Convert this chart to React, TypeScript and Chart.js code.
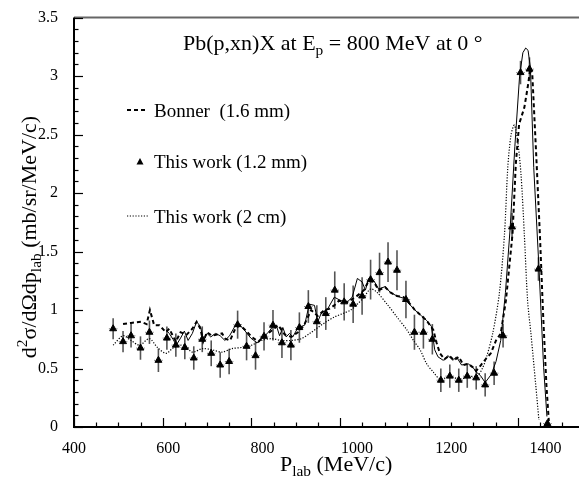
import React, { useEffect, useRef } from "react";
import { Chart, registerables } from "chart.js";

Chart.register(...registerables);

const FONT = "'Liberation Serif', 'Times New Roman', Times, serif";

// ---- axes ----
const X_MIN = 400;
const X_MAX = 1471;
const Y_MIN = 0;
const Y_MAX = 3.5;
const X_TICKS = [400, 600, 800, 1000, 1200, 1400];
const Y_TICKS = [0, 0.5, 1, 1.5, 2, 2.5, 3, 3.5];
const X_MINOR_STEP = 47.05;
const Y_MINOR_STEP = 0.1;

// ---- Bonner (1.6 mm), dashed ----
const BONNER_P = [504, 521, 542, 554, 561, 570, 581, 595, 602, 616, 626, 639, 651, 660, 668, 674, 682, 693, 703, 714, 721, 731, 742, 752, 763, 777, 791, 801, 812, 824, 833, 847, 861, 875, 889, 903, 917, 931, 941, 952, 962, 980, 997, 1015, 1025, 1036, 1046, 1060, 1071, 1085, 1099, 1109, 1123, 1137, 1148, 1162, 1169, 1176, 1186, 1196, 1206, 1216, 1226, 1236, 1246, 1253, 1263, 1274, 1284, 1295, 1305, 1316, 1330, 1337, 1344, 1355, 1362, 1368, 1372, 1380, 1388, 1395, 1402, 1407];
const BONNER_V = [0.88, 0.89, 0.90, 0.88, 1.0, 0.87, 0.87, 0.81, 0.84, 0.73, 0.81, 0.79, 0.84, 0.90, 0.84, 0.73, 0.81, 0.78, 0.79, 0.80, 0.755, 0.74, 0.84, 0.87, 0.83, 0.77, 0.73, 0.77, 0.80, 0.84, 0.87, 0.79, 0.77, 0.81, 0.88, 1.0, 0.95, 1.0, 1.01, 1.04, 1.08, 1.07, 1.11, 1.17, 1.25, 1.24, 1.17, 1.195, 1.15, 1.12, 1.11, 1.07, 1.0, 0.95, 0.91, 0.83, 0.72, 0.63, 0.58, 0.61, 0.57, 0.60, 0.53, 0.54, 0.51, 0.48, 0.53, 0.585, 0.63, 0.74, 0.80, 1.08, 1.65, 2.25, 2.59, 2.73, 2.90, 3.07, 3.01, 2.35, 1.65, 0.95, 0.35, 0.05];

// ---- This work (1.2 mm), fine solid line ----
const FINE_P = [595, 602, 610, 617, 626, 634, 642, 651, 660, 668, 675, 682, 690, 700, 710, 720, 730, 741, 752, 763, 775, 788, 800, 812, 822, 829, 836, 843, 850, 857, 864, 875, 889, 899, 910, 917, 924, 938, 952, 966, 980, 990, 1001, 1011, 1018, 1025, 1036, 1046, 1060, 1071, 1085, 1099, 1109, 1123, 1137, 1148, 1158, 1165, 1172, 1183, 1193, 1204, 1211, 1222, 1236, 1246, 1253, 1262, 1272, 1285, 1295, 1305, 1315, 1325, 1335, 1345, 1352, 1358, 1363, 1368, 1375, 1386, 1396, 1403];
const FINE_V = [0.83, 0.80, 0.75, 0.70, 0.76, 0.82, 0.74, 0.80, 0.90, 0.86, 0.74, 0.80, 0.77, 0.80, 0.78, 0.74, 0.78, 0.86, 0.87, 0.82, 0.76, 0.72, 0.76, 0.81, 0.86, 0.87, 0.78, 0.85, 0.77, 0.80, 0.77, 0.85, 0.87, 1.05, 1.04, 0.90, 0.97, 1.01, 1.11, 1.08, 1.07, 1.11, 1.27, 1.24, 1.17, 1.27, 1.25, 1.18, 1.20, 1.15, 1.12, 1.10, 1.06, 1.0, 0.95, 0.91, 0.86, 0.66, 0.60, 0.57, 0.61, 0.57, 0.60, 0.53, 0.54, 0.51, 0.47, 0.44, 0.38, 0.45, 0.56, 0.74, 1.15, 1.70, 2.40, 3.0, 3.2, 3.24, 3.22, 3.07, 2.22, 1.37, 0.51, 0.09];

// ---- This work (2 cm), dotted ----
const THICK_P = [483, 504, 521, 539, 560, 577, 595, 612, 633, 651, 672, 693, 714, 735, 756, 777, 798, 819, 840, 861, 882, 900, 917, 935, 952, 970, 987, 1001, 1015, 1029, 1043, 1064, 1085, 1106, 1120, 1134, 1148, 1162, 1176, 1197, 1218, 1239, 1256, 1266, 1274, 1288, 1302, 1313, 1320, 1327, 1334, 1341, 1348, 1355, 1362, 1369, 1379, 1386];
const THICK_V = [0.70, 0.78, 0.74, 0.70, 0.755, 0.68, 0.63, 0.68, 0.70, 0.64, 0.67, 0.66, 0.64, 0.67, 0.68, 0.70, 0.74, 0.755, 0.74, 0.74, 0.755, 0.80, 0.85, 0.90, 0.94, 0.97, 1.0, 1.05, 1.11, 1.18, 1.15, 1.05, 0.94, 0.83, 0.74, 0.66, 0.54, 0.47, 0.41, 0.43, 0.41, 0.43, 0.44, 0.50, 0.585, 0.80, 1.14, 1.65, 2.22, 2.50, 2.58, 2.44, 2.16, 1.65, 1.08, 0.80, 0.37, 0.06];

// ---- This work (1.2 mm), triangles with errors ----
const PTS_P = [483, 504, 521, 541, 560, 579, 597, 616, 635, 654, 672, 691, 710, 729, 747, 766, 785, 803, 822, 841, 860, 878, 897, 915, 934, 953, 973, 992, 1011, 1029, 1048, 1066, 1085, 1104, 1122, 1141, 1160, 1178, 1197, 1216, 1234, 1253, 1272, 1291, 1310, 1329, 1347, 1366, 1385, 1404];
const PTS_V = [0.84, 0.73, 0.78, 0.675, 0.81, 0.57, 0.76, 0.70, 0.68, 0.59, 0.75, 0.63, 0.53, 0.56, 0.875, 0.69, 0.61, 0.775, 0.87, 0.72, 0.70, 0.85, 1.03, 0.90, 0.97, 1.17, 1.07, 1.05, 1.12, 1.26, 1.32, 1.41, 1.34, 1.09, 0.81, 0.81, 0.75, 0.40, 0.435, 0.40, 0.435, 0.42, 0.36, 0.46, 0.78, 1.71, 3.03, 3.06, 1.35, 0.03];
const PTS_ERR = [0.09, 0.09, 0.1, 0.1, 0.1, 0.1, 0.1, 0.1, 0.1, 0.1, 0.11, 0.11, 0.11, 0.11, 0.12, 0.12, 0.12, 0.12, 0.13, 0.13, 0.13, 0.13, 0.14, 0.14, 0.14, 0.16, 0.16, 0.16, 0.16, 0.17, 0.17, 0.17, 0.17, 0.16, 0.15, 0.14, 0.13, 0.1, 0.1, 0.1, 0.1, 0.1, 0.1, 0.1, 0.1, 0.12, 0.1, 0.1, 0.1, 0.02];
const PTS_XERR = 9;

// ---- texts ----
type Seg = { t: string; mode?: "sub" | "sup" };
const TITLE_SEGS: Seg[] = [{ t: "Pb(p,xn)X at E" }, { t: "p", mode: "sub" }, { t: " = 800 MeV at 0 °" }];
const LEGEND_LABELS = ["Bonner  (1.6 mm)", "This work (1.2 mm)", "This work (2 cm)"];
const Y_TITLE: Seg[] = [{ t: "d" }, { t: "2", mode: "sup" }, { t: "σ/dΩdp" }, { t: "lab", mode: "sub" }, { t: " (mb/sr/MeV/c)" }];
const X_TITLE: Seg[] = [{ t: "P" }, { t: "lab", mode: "sub" }, { t: " (MeV/c)" }];

function zip(a: number[], b: number[]) {
  return a.map((x, i) => ({ x, y: b[i] }));
}

function drawRich(ctx: CanvasRenderingContext2D, segs: Seg[], x: number, y: number, size: number, align: "left" | "center") {
  const fontOf = (s: Seg) => `${s.mode ? size * 0.7 : size}px ${FONT}`;
  let total = 0;
  const widths = segs.map((s) => {
    ctx.font = fontOf(s);
    const w = ctx.measureText(s.t).width;
    total += w;
    return w;
  });
  let cx = align === "center" ? x - total / 2 : x;
  ctx.textAlign = "left";
  ctx.textBaseline = "alphabetic";
  segs.forEach((s, i) => {
    ctx.font = fontOf(s);
    const dy = s.mode === "sub" ? size * 0.22 : s.mode === "sup" ? -size * 0.42 : 0;
    ctx.fillText(s.t, cx, y + dy);
    cx += widths[i];
  });
}

const decorations = {
  id: "decorations",
  beforeDatasetsDraw(chart: any) {
    const ctx: CanvasRenderingContext2D = chart.ctx;
    const xs = chart.scales.x;
    const ys = chart.scales.y;
    ctx.save();
    for (let i = 0; i < PTS_P.length; i++) {
      const px = xs.getPixelForValue(PTS_P[i]);
      const py = ys.getPixelForValue(PTS_V[i]);
      const y1 = ys.getPixelForValue(PTS_V[i] - PTS_ERR[i]);
      const y2 = ys.getPixelForValue(PTS_V[i] + PTS_ERR[i]);
      ctx.strokeStyle = "#555";
      ctx.lineWidth = 1.6;
      ctx.setLineDash([]);
      ctx.beginPath();
      ctx.moveTo(px, y1);
      ctx.lineTo(px, y2);
      ctx.stroke();
      ctx.strokeStyle = "#777";
      ctx.lineWidth = 1;
      ctx.setLineDash([1, 1.5]);
      ctx.beginPath();
      ctx.moveTo(xs.getPixelForValue(PTS_P[i] - PTS_XERR), py);
      ctx.lineTo(xs.getPixelForValue(PTS_P[i] + PTS_XERR), py);
      ctx.stroke();
    }
    ctx.restore();
  },
  afterDraw(chart: any) {
    const ctx: CanvasRenderingContext2D = chart.ctx;
    const { left, right, top, bottom } = chart.chartArea;
    const xs = chart.scales.x;
    const ys = chart.scales.y;
    ctx.save();
    ctx.setLineDash([]);
    // frame
    ctx.strokeStyle = "#666";
    ctx.lineWidth = 2;
    ctx.beginPath();
    ctx.moveTo(left, top);
    ctx.lineTo(right, top);
    ctx.stroke();
    ctx.strokeStyle = "#000";
    ctx.beginPath();
    ctx.moveTo(left, top);
    ctx.lineTo(left, bottom);
    ctx.lineTo(right, bottom);
    ctx.stroke();
    // y ticks
    ctx.lineWidth = 1.2;
    const ny = Math.round((Y_MAX - Y_MIN) / Y_MINOR_STEP);
    for (let k = 0; k <= ny; k++) {
      const v = Y_MIN + k * Y_MINOR_STEP;
      const py = Math.round(ys.getPixelForValue(v)) + 0.5;
      const len = k % 5 === 0 ? 9 : 4.5;
      ctx.beginPath();
      ctx.moveTo(left, py);
      ctx.lineTo(left + len, py);
      ctx.stroke();
    }
    // x ticks
    for (let k = 0; X_MIN + k * X_MINOR_STEP <= X_MAX; k++) {
      const px = Math.round(xs.getPixelForValue(X_MIN + k * X_MINOR_STEP)) + 0.5;
      const len = k % 4 === 0 ? 9 : 4.5;
      ctx.beginPath();
      ctx.moveTo(px, bottom);
      ctx.lineTo(px, bottom - len);
      ctx.stroke();
    }
    ctx.fillStyle = "#000";
    // title
    drawRich(ctx, TITLE_SEGS, 183, 50, 22, "left");
    // legend
    const lx0 = 127, lx1 = 148, tx = 154;
    const rows = [117, 168, 222.5];
    ctx.font = `19px ${FONT}`;
    ctx.textAlign = "left";
    ctx.textBaseline = "alphabetic";
    LEGEND_LABELS.forEach((lab, i) => ctx.fillText(lab, tx, rows[i]));
    ctx.strokeStyle = "#000";
    ctx.lineWidth = 2;
    ctx.setLineDash([4, 3]);
    ctx.beginPath();
    ctx.moveTo(lx0, rows[0] - 7);
    ctx.lineTo(lx1, rows[0] - 7);
    ctx.stroke();
    ctx.setLineDash([]);
    const cx = 140, cy = rows[1] - 6;
    ctx.beginPath();
    ctx.moveTo(cx, cy - 4);
    ctx.lineTo(cx + 3.5, cy + 2.5);
    ctx.lineTo(cx - 3.5, cy + 2.5);
    ctx.closePath();
    ctx.fill();
    ctx.lineWidth = 1.2;
    ctx.setLineDash([1.2, 1.6]);
    ctx.beginPath();
    ctx.moveTo(lx0, rows[2] - 6.5);
    ctx.lineTo(lx1, rows[2] - 6.5);
    ctx.stroke();
    ctx.setLineDash([]);
    // axis titles
    drawRich(ctx, X_TITLE, 280, 471, 22, "left");
    ctx.save();
    ctx.translate(36, 237);
    ctx.rotate(-Math.PI / 2);
    drawRich(ctx, Y_TITLE, 0, 0, 22, "center");
    ctx.restore();
    ctx.restore();
  },
};

export default function App() {
  const ref = useRef<HTMLCanvasElement>(null);
  useEffect(() => {
    document.body.style.margin = "0";
    const canvas = ref.current!;
    const chart = new Chart(canvas, {
      type: "scatter",
      data: {
        datasets: [
          {
            label: "Bonner (1.6 mm)",
            data: zip(BONNER_P, BONNER_V),
            showLine: true,
            borderColor: "#000",
            borderWidth: 2,
            borderDash: [4, 3],
            pointRadius: 0,
            tension: 0,
          },
          {
            label: "This work (1.2 mm) fine",
            data: zip(FINE_P, FINE_V),
            showLine: true,
            borderColor: "#000",
            borderWidth: 1,
            pointRadius: 0,
            tension: 0,
          },
          {
            label: "This work (2 cm)",
            data: zip(THICK_P, THICK_V),
            showLine: true,
            borderColor: "#000",
            borderWidth: 1.2,
            borderDash: [1.2, 1.6],
            pointRadius: 0,
            tension: 0.3,
          },
          {
            label: "This work (1.2 mm)",
            data: zip(PTS_P, PTS_V),
            showLine: false,
            pointStyle: "triangle",
            pointRadius: 4,
            backgroundColor: "#000",
            borderColor: "#000",
            borderWidth: 1,
          },
        ],
      } as any,
      options: {
        animation: false,
        responsive: false,
        maintainAspectRatio: false,
        layout: { padding: { top: 16, left: 0, right: 0, bottom: 0 } },
        plugins: { legend: { display: false }, tooltip: { enabled: false }, title: { display: false } },
        scales: {
          x: {
            type: "linear",
            position: "bottom",
            min: X_MIN,
            max: X_MAX,
            grid: { display: false },
            border: { display: false },
            ticks: {
              color: "#000",
              font: { family: FONT, size: 16 },
              padding: 4,
              maxRotation: 0,
              autoSkip: false,
              callback: (v: any) => String(v),
            },
            afterBuildTicks: (s: any) => {
              s.ticks = X_TICKS.map((value) => ({ value }));
            },
            afterFit: (s: any) => {
              s.height = 50;
            },
          },
          y: {
            type: "linear",
            min: Y_MIN,
            max: Y_MAX,
            grid: { display: false },
            border: { display: false },
            ticks: {
              color: "#000",
              font: { family: FONT, size: 16 },
              padding: 8,
              autoSkip: false,
              callback: (v: any) => String(v),
            },
            afterBuildTicks: (s: any) => {
              s.ticks = Y_TICKS.map((value) => ({ value }));
            },
            afterFit: (s: any) => {
              s.width = 74;
            },
          },
        },
      } as any,
      plugins: [decorations],
    });
    return () => chart.destroy();
  }, []);
  return (
    <div style={{ width: 584, height: 477 }}>
      <canvas ref={ref} width={584} height={477} style={{ display: "block", width: 584, height: 477 }} />
    </div>
  );
}
